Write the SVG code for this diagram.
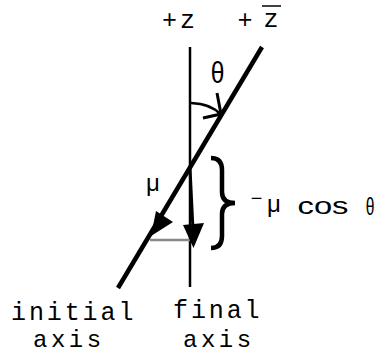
<svg xmlns="http://www.w3.org/2000/svg" width="378" height="355" viewBox="0 0 378 355">
<style>
.mono{font-family:"Liberation Mono","Courier New",monospace;font-size:25px;letter-spacing:2.9px;fill:#000}
.sans{font-family:"Liberation Sans",Arial,sans-serif;font-size:24px;fill:#000}
.ln{stroke:#000;fill:none;stroke-linecap:butt}
</style>
<rect width="378" height="355" fill="#fff"/>
<g id="connectors">
  <line class="ln" x1="190" y1="47" x2="190" y2="287" stroke-width="2.5"/>
  <line class="ln" x1="262" y1="47" x2="118" y2="288" stroke-width="4.5"/>
  <line x1="150" y1="240" x2="190" y2="240" stroke="#888" stroke-width="2.5"/>
  <polygon points="151,236 156,211 173,222" fill="#000"/>
  <line class="ln" x1="190" y1="168" x2="193" y2="230" stroke-width="3"/>
  <polygon points="183,225 204,223 193.5,248" fill="#000"/>
  <path class="ln" d="M191,103 Q211,104 220,114" stroke-width="2.5"/>
  <polyline class="ln" points="217,93 221,114 203,118" stroke-width="3" stroke-linejoin="miter"/>
  <path class="ln" d="M211,158 Q222,158 222,170 L222,192 Q222,203 235,203 Q222,203 222,214 L222,236 Q222,248 211,248" stroke-width="4.5"/>
</g>
<g id="label-z">
  <text class="mono" x="162" y="28">+z</text>
</g>
<g id="label-zbar">
  <text class="mono" x="245" y="28" text-anchor="middle" style="letter-spacing:0">+</text>
  <text class="mono" x="271" y="27" text-anchor="middle" style="letter-spacing:0">z</text>
  <line x1="262" y1="6" x2="281" y2="6" stroke="#000" stroke-width="1.5"/>
</g>
<g id="label-theta">
  <text class="sans" x="210.7" y="83" textLength="13.7" lengthAdjust="spacingAndGlyphs" style="font-size:29px">θ</text>
</g>
<g id="label-mu">
  <text class="sans" x="146" y="191">μ</text>
</g>
<g id="label-mucos">
  <text class="sans" x="256.7" y="205" text-anchor="middle" style="font-size:20px">−</text>
  <text class="sans" x="267" y="212">μ</text>
  <text class="sans" x="297.5" y="214.3" textLength="51" lengthAdjust="spacingAndGlyphs">cos</text>
  <text class="sans" x="365.8" y="215" textLength="8.7" lengthAdjust="spacingAndGlyphs">θ</text>
</g>
<g id="label-initial">
  <text class="mono" x="11" y="320">initial</text>
  <text class="mono" x="33" y="347" style="font-size:24px;letter-spacing:3.5px">axis</text>
</g>
<g id="label-final">
  <text class="mono" x="173" y="318">final</text>
  <text class="mono" x="183" y="347" style="font-size:24px;letter-spacing:3.5px">axis</text>
</g>
</svg>
